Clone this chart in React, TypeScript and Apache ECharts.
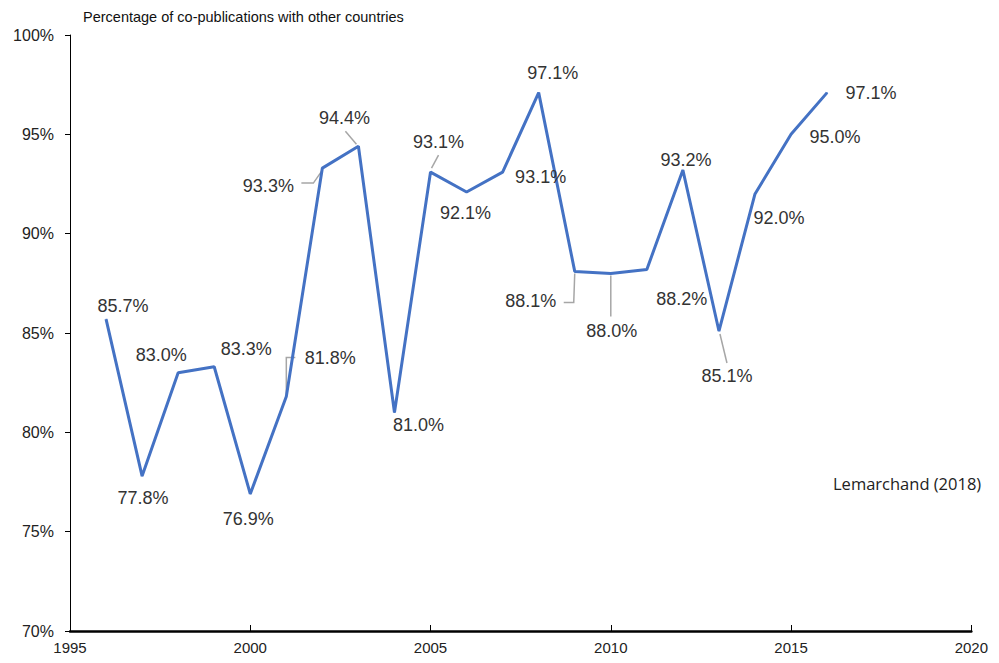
import React, { useEffect, useRef } from "react";
import * as echarts from "echarts";

const years = [1996, 1997, 1998, 1999, 2000, 2001, 2002, 2003, 2004, 2005, 2006, 2007, 2008, 2009, 2010, 2011, 2012, 2013, 2014, 2015, 2016];
const shares = [85.7, 77.8, 83.0, 83.3, 76.9, 81.8, 93.3, 94.4, 81.0, 93.1, 92.1, 93.1, 97.1, 88.1, 88.0, 88.2, 93.2, 85.1, 92.0, 95.0, 97.1];
const yTicks = [70, 75, 80, 85, 90, 95, 100];
const xTicks = [1995, 2000, 2005, 2010, 2015, 2020];
const titleText = "Percentage of co-publications with other countries";
const sourceText = "Lemarchand (2018)";

// label offsets (px) relative to each point
const labelOffsets: number[][] = [
  [17, -13], [1, 22], [-17, -18], [32, -18], [-2, 25], [44, -39], [-54, 18],
  [-14, -28], [24, 13], [8, -30], [-1, 21], [38, 5], [14, -20], [-44, 30],
  [1, 58], [35, 30], [3, -10], [8, 45], [24, 24], [44, 3], [44, 0],
];

// leader line polylines (px) relative to each point
const leaders: (number[][] | null)[] = [
  null, null, null, null, null,
  [[0, -2], [0, -39], [9, -39]],
  [[0, 2], [-9, 15], [-21, 15]],
  [[-2, -2], [-13, -15]],
  null,
  [[1, -4], [8, -17]],
  null, null, null,
  [[0, 2], [-1, 31], [-11, 31]],
  [[0, 2], [0, 43]],
  null, null,
  [[1, 3], [8, 32]],
  null, null, null,
];

export default function App() {
  const ref = useRef<HTMLDivElement>(null);
  useEffect(() => {
    if (!ref.current) return;
    const chart = echarts.init(ref.current, undefined, { renderer: "svg" });
    const lineData = years.map((y, i) => ({
      value: [y, shares[i]],
      label: { offset: labelOffsets[i] },
    }));
    chart.setOption({
      animation: false,
      backgroundColor: "#ffffff",
      grid: { left: 62, right: 11, top: 27, bottom: 23 },
      graphic: [
        {
          type: "text",
          left: 75,
          top: 1,
          style: { text: titleText, fill: "#111", font: "14.5px 'Liberation Sans', Arial, sans-serif" },
        },
        {
          type: "text",
          left: 825,
          top: 467,
          style: { text: sourceText, fill: "#222", font: "16.5px 'Open Sans', sans-serif" },
        },
      ],
      xAxis: {
        type: "value",
        min: xTicks[0],
        max: xTicks[xTicks.length - 1],
        interval: 5,
        axisLine: { show: true, lineStyle: { color: "#000", width: 2.5 } },
        axisTick: { show: true, inside: true, length: 6, lineStyle: { color: "#000", width: 1 } },
        splitLine: { show: false },
        axisLabel: {
          color: "#222",
          fontSize: 15,
          fontFamily: "'Liberation Sans', Arial, sans-serif",
          margin: 9,
          formatter: (v: number) => String(v),
        },
      },
      yAxis: {
        type: "value",
        min: yTicks[0],
        max: yTicks[yTicks.length - 1],
        interval: 5,
        axisLine: { show: true, lineStyle: { color: "#000", width: 1 } },
        axisTick: { show: true, inside: false, length: 5, lineStyle: { color: "#000", width: 1 } },
        splitLine: { show: false },
        axisLabel: {
          color: "#222",
          fontSize: 16,
          fontFamily: "'Liberation Sans', Arial, sans-serif",
          margin: 16,
          formatter: (v: number) => v + "%",
        },
      },
      series: [
        {
          type: "custom",
          z: 1,
          silent: true,
          data: years.map((y, i) => [y, shares[i]]),
          renderItem: (params: any, api: any) => {
            const leader = leaders[params.dataIndex];
            if (!leader) return null;
            const pt = api.coord([api.value(0), api.value(1)]);
            return {
              type: "polyline",
              shape: { points: leader.map(([dx, dy]) => [pt[0] + dx, pt[1] + dy]) },
              style: { stroke: "#A6A6A6", lineWidth: 1.5, fill: "none" },
            };
          },
        },
        {
          type: "line",
          z: 2,
          data: lineData,
          symbol: "circle",
          symbolSize: 1,
          showSymbol: true,
          itemStyle: { color: "#4472C4" },
          lineStyle: { color: "#4472C4", width: 3 },
          emphasis: { disabled: true },
          label: {
            show: true,
            position: "inside",
            color: "#333",
            fontSize: 18,
            fontFamily: "'Liberation Sans', Arial, sans-serif",
            formatter: (p: any) => p.value[1].toFixed(1) + "%",
          },
        },
      ],
    });
    return () => chart.dispose();
  }, []);
  return <div ref={ref} style={{ width: 983, height: 647 }} />;
}
